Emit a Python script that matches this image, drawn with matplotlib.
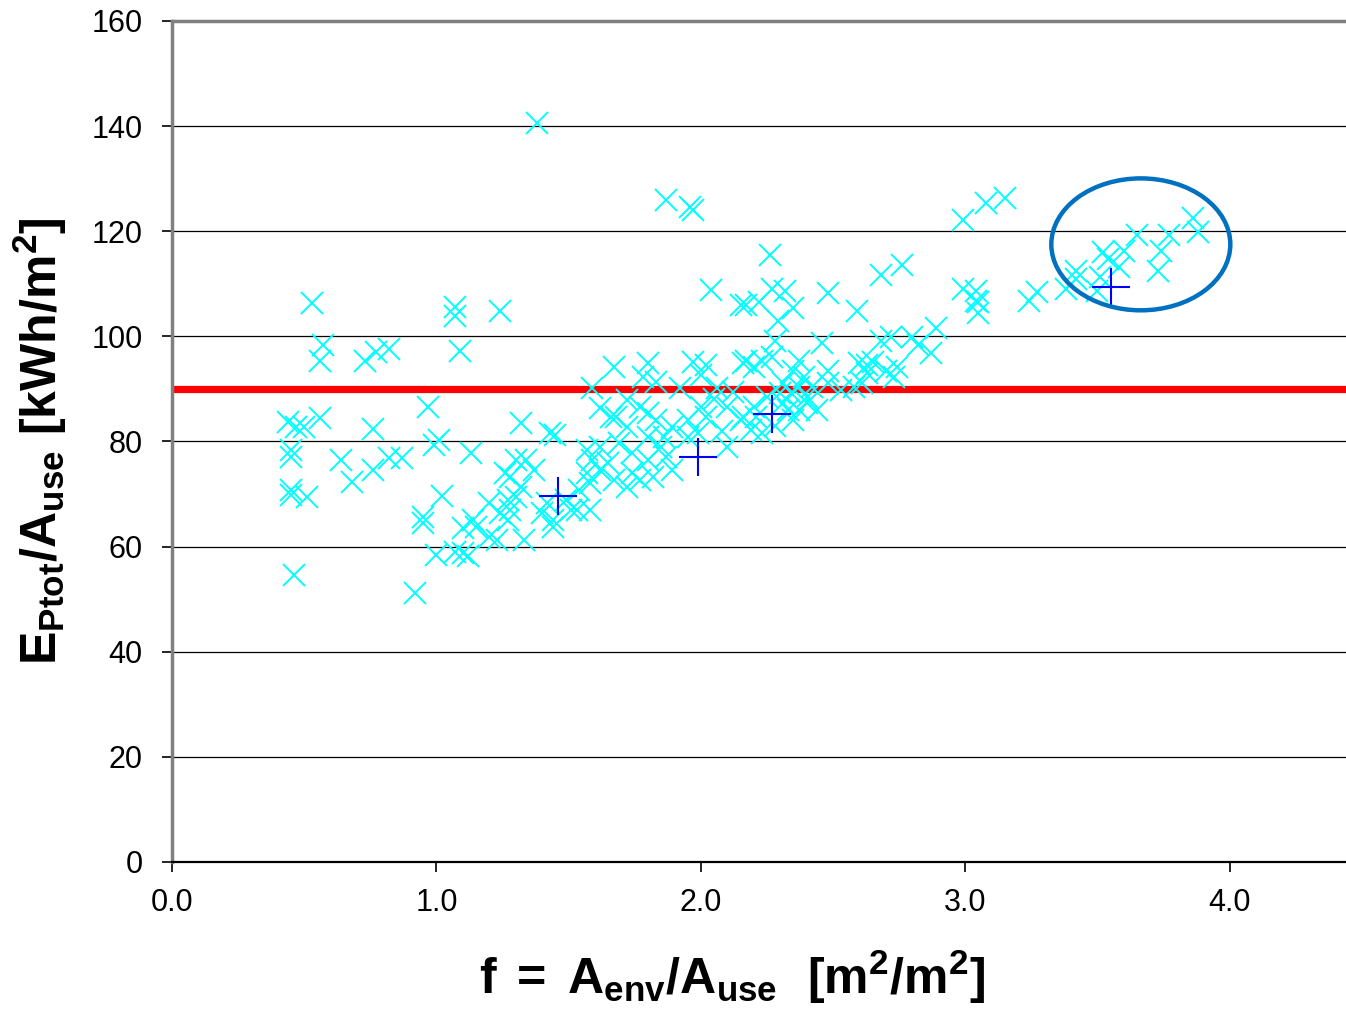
import matplotlib
matplotlib.use("Agg")
import matplotlib.pyplot as plt
from matplotlib.patches import Ellipse

plt.rcParams["font.family"] = ["Liberation Sans", "DejaVu Sans"]
plt.rcParams["mathtext.fontset"] = "custom"
plt.rcParams["mathtext.rm"] = "Liberation Sans:bold"
plt.rcParams["mathtext.it"] = "Liberation Sans:bold"
plt.rcParams["mathtext.bf"] = "Liberation Sans:bold"

# buildings: form factor f vs primary energy per use area
f_vals = [
    0.53, 0.57, 0.56, 0.73, 0.77, 0.82, 1.07, 1.07, 1.24, 1.09,
    0.44, 0.47, 0.50, 0.56, 0.76, 0.97, 0.45, 0.45, 0.64, 0.68,
    0.76, 0.82, 0.87, 0.99, 1.01, 1.13, 0.45, 0.45, 0.51, 1.02,
    0.95, 0.95, 0.46, 0.92, 1.00, 1.07, 1.10, 1.12, 1.10, 1.14,
    1.15, 1.20, 1.24, 1.28, 1.20, 1.23, 1.30, 1.26, 1.30, 1.32,
    2.04, 2.17, 1.67, 1.80, 1.78, 1.83, 1.97, 2.02, 2.00, 2.17,
    1.59, 1.92, 2.06, 1.62, 1.66, 1.68, 1.72, 1.77, 1.80, 1.83,
    1.86, 1.89, 1.95, 2.00, 2.02, 2.10, 2.15, 2.10, 1.99, 1.95,
    1.43, 1.45, 1.34, 1.37, 1.32, 1.27, 1.27, 1.42, 1.44, 1.49,
    1.53, 1.58, 1.54, 1.57, 1.59, 1.62, 1.57, 1.58, 1.65, 1.67,
    1.72, 1.74, 1.77, 1.82, 1.80, 1.74, 1.85, 1.87, 1.89, 1.69,
    1.62, 1.28, 1.40, 1.44, 1.51, 1.33, 1.80, 1.72,
    2.26, 2.15, 2.22, 2.27, 2.32, 2.35, 2.29, 2.48, 2.59, 2.68,
    2.76, 2.99, 3.04, 3.05, 3.05, 2.28, 2.46, 2.16, 2.20, 2.23,
    2.27, 2.37, 2.35, 2.39, 2.48, 2.48, 2.53, 2.58, 2.60, 2.63,
    2.65, 2.63, 2.61, 2.68, 2.72, 2.80, 2.82, 2.87, 2.89, 2.70,
    2.73, 2.74, 2.16, 2.21, 2.19, 2.23, 2.31, 2.34, 2.37, 2.33,
    2.37, 2.40, 2.31, 2.30, 2.42,
    2.05, 2.12, 2.08, 2.25, 2.20, 2.28, 2.35, 2.40, 2.44,
    2.99, 3.08, 3.15, 3.24, 3.27, 3.38, 3.42, 3.42, 3.50, 3.51,
    3.52, 3.54, 3.58, 3.60, 3.65, 3.74, 3.73, 3.77, 3.86, 3.88,
    3.04,
    1.38, 1.87, 1.96, 1.97,
]
e_vals = [
    106.3, 98.3, 95.4, 95.4, 97.1, 97.5, 105.5, 103.8, 104.8, 97.3,
    83.7, 82.7, 82.7, 84.4, 82.3, 86.5, 78.3, 77.0, 76.4, 72.2,
    74.5, 76.8, 76.8, 79.3, 80.2, 77.8, 70.7, 69.8, 69.4, 69.6,
    65.6, 64.4, 54.6, 51.1, 58.4, 58.9, 58.7, 58.2, 63.5, 65.0,
    63.7, 68.3, 66.3, 66.9, 61.8, 61.2, 69.4, 74.0, 76.4, 83.5,
    108.9, 105.9, 94.1, 94.9, 92.2, 91.3, 95.1, 94.5, 92.6, 95.4,
    90.1, 90.1, 90.1, 86.3, 84.6, 84.6, 87.8, 86.5, 85.4, 84.0,
    80.8, 82.7, 84.0, 86.5, 84.6, 86.5, 84.0, 78.9, 81.6, 80.8,
    81.6, 81.2, 76.4, 74.5, 71.3, 68.8, 65.0, 68.3, 65.0, 68.8,
    66.9, 66.9, 70.7, 78.3, 76.4, 74.5, 74.0, 72.1, 75.9, 72.6,
    71.3, 74.0, 72.6, 73.2, 76.4, 77.8, 78.9, 77.0, 74.5, 79.7,
    78.9, 73.2, 66.3, 63.7, 66.9, 61.2, 80.8, 82.7,
    115.4, 105.9, 106.5, 109.1, 108.7, 105.3, 103.0, 108.2, 104.9, 111.6,
    113.5, 109.1, 108.7, 106.5, 104.4, 99.2, 98.7, 94.9, 94.1, 95.4,
    96.0, 95.4, 93.5, 92.2, 93.5, 91.1, 89.7, 90.3, 94.9, 94.5,
    95.1, 93.0, 91.1, 99.2, 99.8, 99.8, 98.3, 96.8, 101.5, 93.5,
    92.2, 94.1, 84.6, 84.6, 82.1, 81.6, 87.3, 89.2, 90.3, 85.9,
    85.9, 87.3, 91.1, 89.2, 90.3,
    88.0, 89.5, 82.0, 88.5, 86.5, 83.0, 84.0, 88.5, 86.0,
    122.2, 125.3, 126.4, 106.8, 108.4, 109.1, 112.5, 111.0, 108.7, 111.2,
    116.0, 114.8, 113.1, 116.3, 119.2, 116.3, 112.5, 119.2, 122.6, 119.8,
    106.8,
    140.5, 125.9, 124.7, 124.0,
]

# group averages (blue crosses)
f_mean = [1.46, 1.99, 2.27, 3.55]
e_mean = [69.6, 77.0, 85.2, 109.4]

limit_value = 90
circle_center = (3.664, 117.5)
circle_w, circle_h = 0.677, 25.1

fig = plt.figure(figsize=(13.46, 10.13), dpi=100)
ax = fig.add_axes([0.1278, 0.1491, 0.8722, 0.8302])

ax.axhline(limit_value, color="#ff0000", lw=5.2, zorder=2)
ax.plot(f_vals, e_vals, ls="none", marker="x", ms=16.5, mew=1.4,
        color="#00ffff", zorder=3)
ax.plot(f_mean, e_mean, ls="none", marker="+", ms=27, mew=1.5,
        color="#0000ff", zorder=4)
ax.add_patch(Ellipse(circle_center, circle_w, circle_h, fill=False,
                     ec="#0070c0", lw=3.2, zorder=5))

ax.set_xlim(0, 4.44)
ax.set_ylim(0, 160)
ax.set_xticks([0, 1, 2, 3, 4])
ax.set_xticklabels(["0.0", "1.0", "2.0", "3.0", "4.0"])
ax.set_yticks(range(0, 161, 20))
ax.yaxis.grid(True, color="black", lw=0.9)
ax.set_axisbelow(True)

ax.tick_params(axis="both", direction="out", length=7, width=1.2,
               labelsize=22, color="black")
ax.tick_params(axis="y", pad=14)
ax.tick_params(axis="x", pad=12)

ax.spines["right"].set_visible(False)
ax.spines["top"].set_color("#808080")
ax.spines["top"].set_linewidth(2.5)
ax.spines["left"].set_color("#808080")
ax.spines["left"].set_linewidth(2.5)
ax.spines["bottom"].set_color("black")
ax.spines["bottom"].set_linewidth(1.6)

ax.set_xlabel(r"$\mathrm{f\;{=}\;A_{env}/A_{use}\ \ [m^2/m^2]}$", fontsize=36)
ax.xaxis.set_label_coords(0.477, -0.102)
ax.set_ylabel(r"$\mathrm{E_{Ptot}/A_{use}\ [kWh/m^2]}$", fontsize=36,
              labelpad=16)

fig.savefig("out.png", dpi=100)
